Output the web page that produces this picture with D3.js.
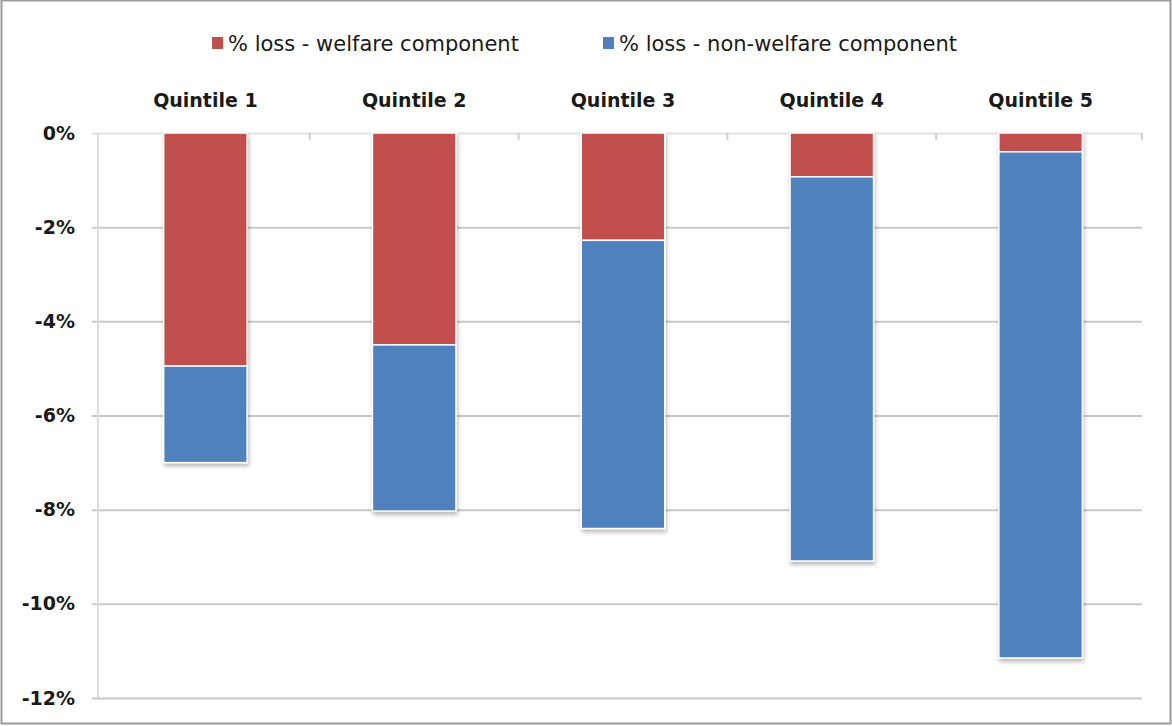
<!DOCTYPE html>
<html>
<head>
<meta charset="utf-8">
<script src="https://cdn.jsdelivr.net/npm/d3@7"></script>
<style>
  html, body { margin: 0; padding: 0; background: #fff; }
  svg { display: block; }
  text { font-family: "DejaVu Sans", "Liberation Sans", sans-serif; fill: #1a1a1a; }
</style>
</head>
<body>
<svg id="chart" width="1172" height="726"></svg>
<script>
// Income quintiles and the two loss components (percent change)
const quintiles = ["Quintile 1", "Quintile 2", "Quintile 3", "Quintile 4", "Quintile 5"];
const welfareLoss = [-4.95, -4.5, -2.28, -0.93, -0.4];
const nonWelfareLoss = [-2.05, -3.53, -6.12, -8.16, -10.75];
const seriesNames = ["% loss - welfare component", "% loss - non-welfare component"];
const seriesColors = ["#C0504D", "#4F81BD"];
const yTicks = [0, -2, -4, -6, -8, -10, -12];

const svg = d3.select("#chart");
const W = 1172, H = 726;

// outer frame
svg.append("rect")
  .attr("x", 1.5).attr("y", 0.5).attr("width", W - 3).attr("height", H - 3)
  .attr("fill", "#fff").attr("stroke", "#9a9a9a").attr("stroke-width", 2);

const defs = svg.append("defs");
const shadow = defs.append("filter").attr("id", "barShadow")
  .attr("x", "-20%").attr("y", "-5%").attr("width", "140%").attr("height", "115%");
shadow.append("feDropShadow")
  .attr("dx", 1).attr("dy", 3).attr("stdDeviation", 2)
  .attr("flood-color", "#000").attr("flood-opacity", 0.28);

const plot = { left: 98, right: 1142, top: 133, bottom: 698 };

const y = d3.scaleLinear().domain([-12, 0]).range([plot.bottom, plot.top]);
const x = d3.scaleBand().domain(quintiles).range([101, 1145])
  .paddingInner(0.6).paddingOuter(0.3);

// horizontal gridlines with the y axis labels
const yAxis = d3.axisLeft(y)
  .tickValues(yTicks)
  .tickSize(-(plot.right - plot.left))
  .tickPadding(23)
  .tickFormat(d => d + "%");
const gy = svg.append("g").attr("transform", `translate(${plot.left},0)`).call(yAxis);
gy.select(".domain").remove();
gy.selectAll(".tick line")
  .attr("x1", -6)
  .attr("stroke", d => d === 0 ? "#e2e2e2" : "#c8c8c8")
  .attr("stroke-width", 2);
gy.selectAll(".tick text")
  .attr("font-size", 19).attr("font-weight", "bold").attr("fill", "#1a1a1a")
  .style("font-family", "'DejaVu Sans', sans-serif");

// vertical axis line
svg.append("line")
  .attr("x1", plot.left).attr("x2", plot.left)
  .attr("y1", plot.top).attr("y2", plot.bottom)
  .attr("stroke", "#dcdcdc").attr("stroke-width", 2);

// category ticks on the zero line
const bounds = d3.range(1, quintiles.length).map(i => (x(quintiles[i - 1]) + x.bandwidth() + x(quintiles[i])) / 2);
bounds.push(plot.right);
svg.append("g").selectAll("line").data(bounds).join("line")
  .attr("x1", d => d).attr("x2", d => d)
  .attr("y1", plot.top).attr("y2", plot.top + 7)
  .attr("stroke", "#cfcfcf").attr("stroke-width", 2);

// category labels above the plot
svg.append("g").selectAll("text").data(quintiles).join("text")
  .attr("x", d => x(d) + x.bandwidth() / 2)
  .attr("y", 107)
  .attr("text-anchor", "middle")
  .attr("font-size", 19).attr("font-weight", "bold")
  .text(d => d);

// stacked segments: welfare from 0 down, non-welfare below it
const segments = [];
quintiles.forEach((q, i) => {
  segments.push({ q, s: 0, y0: 0, y1: welfareLoss[i] });
  segments.push({ q, s: 1, y0: welfareLoss[i], y1: welfareLoss[i] + nonWelfareLoss[i] });
});

const barsG = svg.append("g").attr("filter", "url(#barShadow)");
barsG.selectAll("rect").data(segments).join("rect")
  .attr("x", d => x(d.q))
  .attr("width", x.bandwidth())
  .attr("y", d => y(d.y0))
  .attr("height", d => y(d.y1) - y(d.y0))
  .attr("fill", d => seriesColors[d.s])
  .attr("stroke", "#fff").attr("stroke-width", 1.5);

// legend
const legendItems = [
  { name: seriesNames[0], color: seriesColors[0], x: 212 },
  { name: seriesNames[1], color: seriesColors[1], x: 603 }
];
const lg = svg.append("g").selectAll("g").data(legendItems).join("g")
  .attr("transform", d => `translate(${d.x},43)`);
lg.append("rect").attr("x", 0).attr("y", -6).attr("width", 11).attr("height", 12)
  .attr("fill", d => d.color);
lg.append("text").attr("x", 16).attr("y", 8).attr("font-size", 21)
  .attr("fill", "#111")
  .text(d => d.name);
</script>
</body>
</html>
